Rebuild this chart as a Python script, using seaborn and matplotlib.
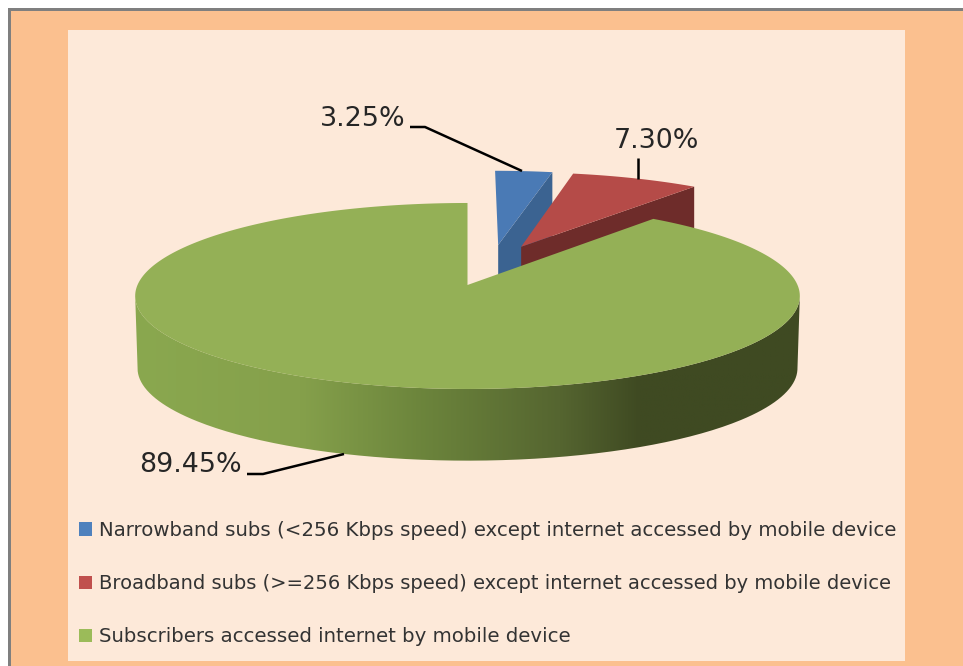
import numpy as np
import matplotlib
matplotlib.use("Agg")
import matplotlib.pyplot as plt
from matplotlib.colors import LinearSegmentedColormap
from matplotlib.patches import Patch, PathPatch, Rectangle
from matplotlib.path import Path
import seaborn as sns

# Data
categories = [
    "Narrowband subs (<256 Kbps speed) except internet accessed by mobile device",
    "Broadband subs (>=256 Kbps speed) except internet accessed by mobile device",
    "Subscribers accessed internet by mobile device",
]
values = [3.25, 7.30, 89.45]
value_labels = ["3.25%", "7.30%", "89.45%"]

sns.set_theme(style="white")
plt.rcParams["font.family"] = ["DejaVu Sans"]

legend_colors = sns.color_palette(["#4F81BD", "#C0504D", "#9BBB59"])
top_colors = ["#4A7AB5", "#B54B48", "#94B056"]
cut_colors = ["#3B6391", "#6E2C2A", "#5F7A35"]
side_cmap = LinearSegmentedColormap.from_list(
    "side",
    [(0.0, "#8AA84F"), (0.25, "#85A04B"), (0.43, "#6C853C"),
     (0.64, "#556530"), (0.76, "#3F4A22"), (1.0, "#3F4A22")],
)

# pie geometry, in picture pixels
CX, CY = 467.5, 285
RX, RY = 330, 91.7
K = 0.118         # perspective strength
DEPTH = 72.5
explode = [(0.098, 0.46), (0.171, 0.439), (0.0, 0.0)]


def project(t, offset=(0, 0), r=1.0, depth=0.0):
    # point on the pie's circle -> picture, t clockwise from 12 o'clock
    u = r * np.sin(t) + offset[0]
    v = r * np.cos(t) + offset[1]
    w = 1 + K * v
    return CX + RX * u / w, CY - RY * v / w + depth


fig = plt.figure(figsize=(9.63, 6.66), dpi=100, facecolor="white")
ax = fig.add_axes([0, 0, 1, 1])
ax.set_xlim(0, 963)
ax.set_ylim(666, 0)
ax.axis("off")

# backgrounds
ax.add_patch(Rectangle((8, 8), 955, 658, facecolor="#7F7F7F", edgecolor="none"))
ax.add_patch(Rectangle((11, 11), 952, 655, facecolor="#FBC08F", edgecolor="none"))
ax.add_patch(Rectangle((68, 30), 837, 631, facecolor="#FDE9D9", edgecolor="none"))

# slice angles from the values
edges = np.radians(np.concatenate([[0], np.cumsum(values)]) * 3.6)

# the two small slices sit behind the big one
for i in [0, 1]:
    off = explode[i]
    t = np.linspace(edges[i], edges[i + 1], 40)
    x, y = project(t, off)
    ax0, ay0 = project(0, off, r=0)
    bx0, by0 = project(0, off, r=0, depth=DEPTH)
    ex, ey = project(edges[i + 1], off)
    fx, fy = project(edges[i + 1], off, depth=DEPTH)
    ax.fill([ax0, ex, fx, bx0], [ay0, ey, fy, by0], color=cut_colors[i], lw=0)
    ax.fill(np.r_[ax0, x], np.r_[ay0, y], color=top_colors[i], lw=0)

# big slice: rim with the light falling off to the right
t_rim = np.radians(np.linspace(96.8, 263.2, 200))
x1, y1 = project(t_rim)
x2, y2 = project(t_rim, r=0.993, depth=DEPTH)
rim = Path(np.column_stack([np.r_[x1, x2[::-1]], np.r_[y1, y2[::-1]]]))
rim_patch = PathPatch(rim, facecolor="none", edgecolor="none")
ax.add_patch(rim_patch)
grad = ax.imshow(np.linspace(0, 1, 256)[None, :], cmap=side_cmap, aspect="auto",
                 extent=[134, 800, 470, 280], zorder=2)
grad.set_clip_path(rim_patch)
ax.set_xlim(0, 963)
ax.set_ylim(666, 0)

t = np.linspace(edges[2], edges[3], 300)
x, y = project(t)
ax.fill(np.r_[CX, x], np.r_[CY, y], color=top_colors[2], lw=0, zorder=3)

# value labels and leader lines
label_pos = [(320, 119), (614, 141), (139, 465)]
leaders = [
    ([410, 425, 522], [127, 127, 171]),
    ([638, 638], [158, 179]),
    ([247, 263, 344], [474, 474, 454]),
]
for lab, pos, line in zip(value_labels, label_pos, leaders):
    ax.text(pos[0], pos[1], lab, fontsize=19.4, color="#262626", ha="left", va="center", zorder=5)
    ax.plot(line[0], line[1], color="black", lw=1.8, zorder=4, solid_capstyle="butt")

# legend
handles = [Patch(facecolor=c, edgecolor="none") for c in legend_colors]
leg = ax.legend(handles, categories, loc="upper left", bbox_to_anchor=(79 / 963, 1 - 521 / 666),
                frameon=False, fontsize=14.25, labelcolor="#333333", handlelength=0.65, handleheight=0.65,
                handletextpad=0.35, labelspacing=1.73, borderpad=0.0, borderaxespad=0.0)
leg.get_texts()[1].set_fontsize(14.09)

fig.savefig("out.png", dpi=100, facecolor=fig.get_facecolor())
